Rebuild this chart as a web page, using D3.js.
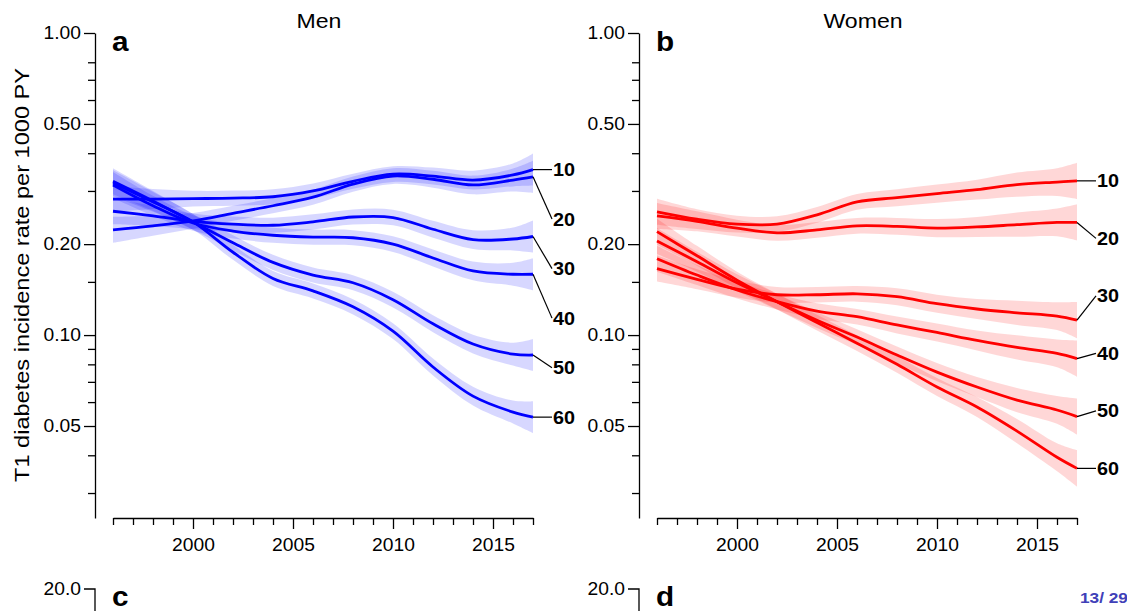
<!DOCTYPE html>
<html>
<head>
<meta charset="utf-8">
<script src="https://d3js.org/d3.v7.min.js"></script>
<style>
  body { margin: 0; background: #fff; }
  svg { display: block; font-family: "Liberation Sans", Arial, sans-serif; }
</style>
</head>
<body>
<svg id="chart" width="1127" height="611"></svg>
<script>
// knots of the fitted curves (rate per 1000 PY), one row per age group
var years = [1996, 1998, 2000, 2002, 2004, 2006, 2008, 2010, 2012, 2014, 2016, 2017];
var ageGroups = ["10", "20", "30", "40", "50", "60"];

var menRates = [
  [0.282, 0.282, 0.283, 0.284, 0.287, 0.300, 0.323, 0.341, 0.336, 0.326, 0.339, 0.353],
  [0.223, 0.230, 0.239, 0.253, 0.268, 0.286, 0.316, 0.336, 0.328, 0.314, 0.326, 0.334],
  [0.257, 0.248, 0.238, 0.233, 0.231, 0.237, 0.246, 0.245, 0.224, 0.207, 0.208, 0.212],
  [0.314, 0.268, 0.235, 0.221, 0.214, 0.211, 0.210, 0.200, 0.180, 0.163, 0.159, 0.159],
  [0.323, 0.278, 0.237, 0.202, 0.174, 0.158, 0.149, 0.131, 0.109, 0.0934, 0.0865, 0.0859],
  [0.319, 0.276, 0.237, 0.188, 0.154, 0.140, 0.124, 0.103, 0.0784, 0.0628, 0.0556, 0.0535]
];
var womenRates = [
  [0.256, 0.242, 0.233, 0.233, 0.250, 0.276, 0.285, 0.294, 0.303, 0.315, 0.321, 0.324],
  [0.248, 0.238, 0.226, 0.218, 0.223, 0.230, 0.229, 0.226, 0.228, 0.232, 0.236, 0.236],
  [0.166, 0.153, 0.142, 0.136, 0.136, 0.137, 0.134, 0.127, 0.122, 0.1185, 0.1155, 0.112],
  [0.179, 0.158, 0.141, 0.129, 0.120, 0.115, 0.108, 0.102, 0.096, 0.091, 0.087, 0.0836],
  [0.205, 0.175, 0.149, 0.129, 0.112, 0.0985, 0.0859, 0.0754, 0.0673, 0.0609, 0.0565, 0.0537],
  [0.220, 0.183, 0.152, 0.129, 0.110, 0.094, 0.080, 0.0673, 0.0578, 0.0481, 0.0394, 0.0362]
];
// half width of the confidence band, log10 units, per knot
var menCI = [0.043, 0.033, 0.026, 0.025, 0.025, 0.025, 0.025, 0.026, 0.028, 0.031, 0.038, 0.053];
var womenCI = [0.043, 0.033, 0.028, 0.026, 0.026, 0.026, 0.028, 0.030, 0.033, 0.040, 0.046, 0.060];

var yMajorTicks = [0.05, 0.10, 0.20, 0.50, 1.00];
var yMinorTicks = [0.03, 0.04, 0.06, 0.07, 0.08, 0.09, 0.15, 0.3, 0.4, 0.6, 0.7, 0.8];
var xMajorTicks = [2000, 2005, 2010, 2015];
var xMinorTicks = d3.range(1996, 2018).filter(function(d) { return xMajorTicks.indexOf(d) < 0; });
var panelTitles = ["Men", "Women"];
var panelLetters = ["a", "b"];
var lowerLetters = ["c", "d"];
var lowerTopTick = "20.0";

var svg = d3.select("#chart");
var STRETCH = 1.1;

// glyphs in the original are a bit wider than Arial
function stretch(sel, k) {
  sel.each(function() {
    var len = this.getComputedTextLength();
    d3.select(this).attr("textLength", len * (k || STRETCH)).attr("lengthAdjust", "spacingAndGlyphs");
  });
  return sel;
}

var y = d3.scaleLog().domain([1, 0.0248]).range([33, 518]);

var panels = [
  { x0: 113, rates: menRates, ci: menCI, color: "#0000ff" },
  { x0: 657, rates: womenRates, ci: womenCI, color: "#ff0000" }
];

panels.forEach(function(p, pi) {
  var x = d3.scaleLinear().domain([1996, 2017]).range([p.x0, p.x0 + 420]);
  var axisX = p.x0 - 18;
  var g = svg.append("g");

  var series = p.rates.map(function(row, i) {
    return {
      age: ageGroups[i],
      pts: years.map(function(yr, j) { return { year: yr, v: row[j], se: p.ci[j] }; })
    };
  });

  var curve = d3.curveCatmullRom.alpha(0.5);
  var line = d3.line()
    .x(function(d) { return x(d.year); })
    .y(function(d) { return y(d.v); })
    .curve(curve);
  var area = d3.area()
    .x(function(d) { return x(d.year); })
    .y0(function(d) { return y(d.v / Math.pow(10, d.se)); })
    .y1(function(d) { return y(d.v * Math.pow(10, d.se)); })
    .curve(curve);

  g.selectAll("path.band").data(series).enter().append("path")
    .attr("class", "band")
    .attr("d", function(d) { return area(d.pts); })
    .attr("fill", p.color)
    .attr("fill-opacity", 0.155);

  g.selectAll("path.fit").data(series).enter().append("path")
    .attr("class", "fit")
    .attr("d", function(d) { return line(d.pts); })
    .attr("fill", "none")
    .attr("stroke", p.color)
    .attr("stroke-width", 2.8);

  // age labels, spread evenly between the first and last curve end
  var endY = series.map(function(s) { return y(s.pts[s.pts.length - 1].v); });
  var step = (endY[endY.length - 1] - endY[0]) / (endY.length - 1);
  var xEnd = x(2017);
  series.forEach(function(s, i) {
    var ly = endY[0] + i * step;
    g.append("line")
      .attr("x1", xEnd).attr("y1", endY[i])
      .attr("x2", xEnd + 19).attr("y2", ly)
      .attr("stroke", "#000").attr("stroke-width", 1.2);
    stretch(g.append("text")
      .attr("x", xEnd + 20).attr("y", ly).attr("dy", "0.36em")
      .attr("font-size", 18).attr("font-weight", "bold")
      .text(s.age));
  });

  // y axis (log)
  var yAxis = g.append("g").attr("transform", "translate(" + axisX + ",0)")
    .call(d3.axisLeft(y).tickValues(yMajorTicks).tickFormat(d3.format(".2f"))
      .tickSize(11).tickSizeOuter(0).tickPadding(3));
  g.append("g").attr("transform", "translate(" + axisX + ",0)")
    .call(d3.axisLeft(y).tickValues(yMinorTicks).tickFormat("").tickSize(7).tickSizeOuter(0))
    .call(function(a) { a.select(".domain").remove(); });

  // x axis
  var xAxis = g.append("g").attr("transform", "translate(0,518)")
    .call(d3.axisBottom(x).tickValues(xMajorTicks).tickFormat(d3.format("d"))
      .tickSize(11).tickSizeOuter(0).tickPadding(10));
  g.append("g").attr("transform", "translate(0,518)")
    .call(d3.axisBottom(x).tickValues(xMinorTicks).tickFormat("").tickSize(7).tickSizeOuter(0))
    .call(function(a) { a.select(".domain").remove(); });

  g.selectAll(".tick line, .domain").attr("stroke", "#000").attr("stroke-width", 1.3);
  [yAxis, xAxis].forEach(function(a) {
    a.attr("font-family", null).attr("font-size", null);
    stretch(a.selectAll("text").attr("font-size", 17.5).attr("fill", "#000"));
  });

  stretch(g.append("text")
    .attr("x", p.x0 + 206).attr("y", 28)
    .attr("text-anchor", "middle").attr("font-size", 21)
    .text(panelTitles[pi]));

  stretch(g.append("text")
    .attr("x", p.x0 - 1).attr("y", 51)
    .attr("font-size", 27).attr("font-weight", "bold")
    .text(panelLetters[pi]));

  // top of the next row of panels (cut off by the slide)
  g.append("path")
    .attr("d", "M" + (axisX - 11) + ",589H" + axisX + "V620")
    .attr("fill", "none").attr("stroke", "#000").attr("stroke-width", 1.3);
  stretch(g.append("text")
    .attr("x", axisX - 14).attr("y", 589).attr("dy", "0.34em")
    .attr("text-anchor", "end").attr("font-size", 17.5)
    .text(lowerTopTick));
  stretch(g.append("text")
    .attr("x", p.x0 - 1).attr("y", 606)
    .attr("font-size", 27).attr("font-weight", "bold")
    .text(lowerLetters[pi]));
});

svg.append("text")
  .attr("transform", "translate(28.5,275) rotate(-90)")
  .attr("text-anchor", "middle").attr("font-size", 21)
  .attr("textLength", 414).attr("lengthAdjust", "spacingAndGlyphs")
  .text("T1 diabetes incidence rate per 1000 PY");

stretch(svg.append("text")
  .attr("x", 1080).attr("y", 603)
  .attr("font-size", 15).attr("font-weight", "bold")
  .attr("fill", "#4040b8")
  .text("13/ 29"), 1.15);
</script>
</body>
</html>
